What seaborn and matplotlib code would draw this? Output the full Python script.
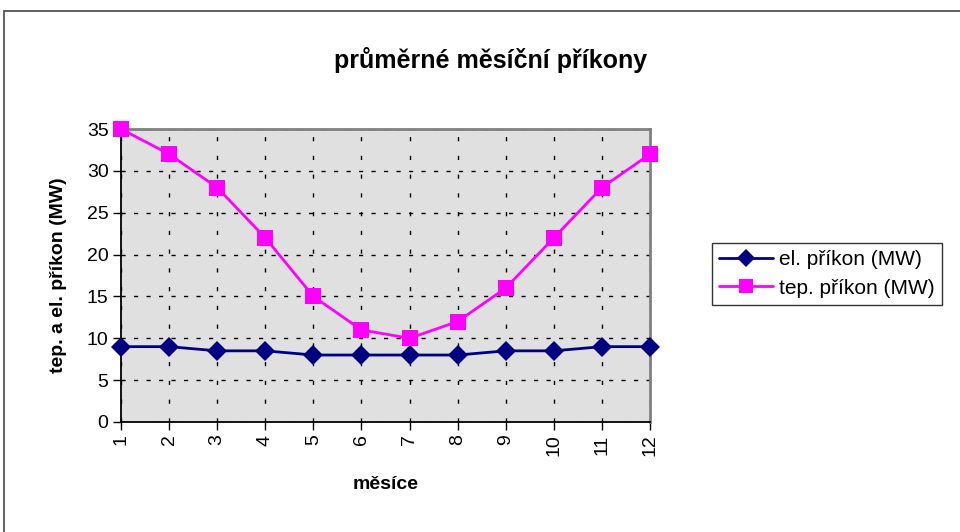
import matplotlib
matplotlib.use("Agg")
import matplotlib.pyplot as plt
import seaborn as sns
import pandas as pd
from matplotlib.patches import Rectangle
from matplotlib.lines import Line2D

months = list(range(1, 13))
el_prikon = [9, 9, 8.5, 8.5, 8, 8, 8, 8, 8.5, 8.5, 9, 9]
tep_prikon = [35, 32, 28, 22, 15, 11, 10, 12, 16, 22, 28, 32]
series_names = ["el. příkon (MW)", "tep. příkon (MW)"]

df = pd.DataFrame({
    "měsíce": months * 2,
    "hodnota": el_prikon + tep_prikon,
    "řada": [series_names[0]] * 12 + [series_names[1]] * 12,
})

sns.set_theme(style="white")
plt.rcParams["font.family"] = ["Liberation Sans", "DejaVu Sans"]
plt.rcParams["text.color"] = "black"
plt.rcParams["axes.labelcolor"] = "black"

fig = plt.figure(figsize=(9.6, 5.32), dpi=100)
ax = fig.add_axes([121 / 960, 1 - 422 / 532, (650 - 121) / 960, (422 - 129) / 532])

# outer chart frame
fig.patches.append(Rectangle((4 / 960, -0.1), 1.2, 1 - 11 / 532 + 0.1,
                             transform=fig.transFigure, fill=False,
                             edgecolor="#555555", linewidth=1.3))

palette = {series_names[0]: "#000080", series_names[1]: "#FF00FF"}
markers = {series_names[0]: "D", series_names[1]: "s"}
sns.lineplot(data=df, x="měsíce", y="hodnota", hue="řada", style="řada",
             palette=palette, markers=markers, dashes=False, ax=ax,
             linewidth=2, markersize=10, markeredgewidth=0, legend=False,
             clip_on=False, zorder=3)
for line in ax.get_lines():
    if line.get_marker() == "s":
        line.set_markersize(12)

ax.set_facecolor("#E0E0E0")
ax.set_xlim(1, 12)
ax.set_ylim(0, 35)
ax.set_xticks(months)
ax.set_xticklabels([str(m) for m in months], rotation=90, fontsize=14)
ax.set_yticks(range(0, 36, 5))
ax.set_yticklabels([str(v) for v in range(0, 36, 5)], fontsize=14)
ax.tick_params(axis="both", direction="out", length=6, width=1, color="black",
               bottom=True, left=True, pad=3, labelcolor="black")

# dashed grid: sparser dashes on the vertical lines
ax.yaxis.grid(True, color="black", linestyle=(0, (3, 6)), linewidth=1)
ax.xaxis.grid(True, color="black", linestyle=(0, (3, 10.5)), linewidth=1)
ax.set_axisbelow(True)

for side in ["left", "bottom"]:
    ax.spines[side].set_color("black")
    ax.spines[side].set_linewidth(1.3)
for side in ["top", "right"]:
    ax.spines[side].set_color("#808080")
    ax.spines[side].set_linewidth(2)
    ax.spines[side].set_visible(True)

ax.set_xlabel("měsíce", fontsize=14, fontweight="bold", labelpad=14)
ax.set_ylabel("tep. a el. příkon (MW)", fontsize=14, fontweight="bold", labelpad=14)
fig.text(491 / 960, 1 - 60 / 532, "průměrné měsíční příkony", fontsize=18,
         fontweight="bold", ha="center", va="center")

handles = [
    Line2D([], [], color="#000080", marker="D", markersize=9, linewidth=2, markeredgewidth=0),
    Line2D([], [], color="#FF00FF", marker="s", markersize=10, linewidth=2, markeredgewidth=0),
]
leg = fig.legend(handles, series_names, loc="center left",
                 bbox_to_anchor=(712 / 960, 1 - 274 / 532), fontsize=15,
                 frameon=True, fancybox=False, edgecolor="black",
                 handlelength=2.6, handletextpad=0.25, borderpad=0.35,
                 labelspacing=0.45, borderaxespad=0)
leg.get_frame().set_linewidth(1)

fig.savefig("out.png", dpi=100)
